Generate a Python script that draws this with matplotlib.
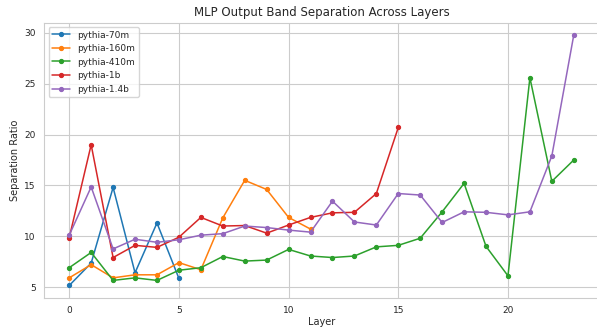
import numpy as np
import matplotlib
matplotlib.use("Agg")
import matplotlib.pyplot as plt
import seaborn as sns

sns.set_style("whitegrid")

models = ["pythia-70m", "pythia-160m", "pythia-410m", "pythia-1b", "pythia-1.4b"]
colors = ["#1f77b4", "#ff7f0e", "#2ca02c", "#d62728", "#9467bd"]

ratio_70m = [5.15, 7.35, 14.8, 6.4, 11.3, 5.85]
ratio_160m = [5.9, 7.2, 5.9, 6.2, 6.2, 7.4, 6.7, 11.8, 15.5, 14.6, 11.85, 10.7]
ratio_410m = [6.9, 8.4, 5.65, 5.9, 5.65, 6.65, 6.9, 8.0, 7.55, 7.65, 8.7, 8.05,
              7.9, 8.05, 8.95, 9.1, 9.8, 12.4, 15.2, 9.0, 6.1, 25.6, 15.4, 17.5]
ratio_1b = [9.85, 19.0, 7.9, 9.1, 8.9, 9.9, 11.85, 11.0, 11.05, 10.3, 11.1, 11.85,
            12.3, 12.35, 14.2, 20.7]
ratio_1_4b = [10.1, 14.85, 8.75, 9.7, 9.4, 9.65, 10.1, 10.25, 11.0, 10.85, 10.6, 10.4,
              13.45, 11.4, 11.1, 14.2, 14.05, 11.35, 12.4, 12.35, 12.1, 12.4, 17.9, 29.8]

series = [ratio_70m, ratio_160m, ratio_410m, ratio_1b, ratio_1_4b]

fig = plt.figure(figsize=(5.97, 3.28), dpi=100)
# axes box runs a little past the right edge, as in the reference
ax = fig.add_axes([44 / 597, 30 / 328, 555 / 597, 275.5 / 328])
for name, vals, c in zip(models, series, colors):
    ax.plot(np.arange(len(vals)), vals, marker="o", markersize=2.8, linewidth=1.1,
            color=c, label=name)

ax.set_title("MLP Output Band Separation Across Layers", fontsize=8.5, pad=5)
ax.set_xlabel("Layer", fontsize=7, labelpad=1.5)
ax.set_ylabel("Separation Ratio", fontsize=7, labelpad=3)
ax.tick_params(labelsize=6.5, pad=2.5)
ax.set_xticks([0, 5, 10, 15, 20])
ax.legend(fontsize=6.5, loc="upper left")

plt.savefig("out.png", dpi=100)
